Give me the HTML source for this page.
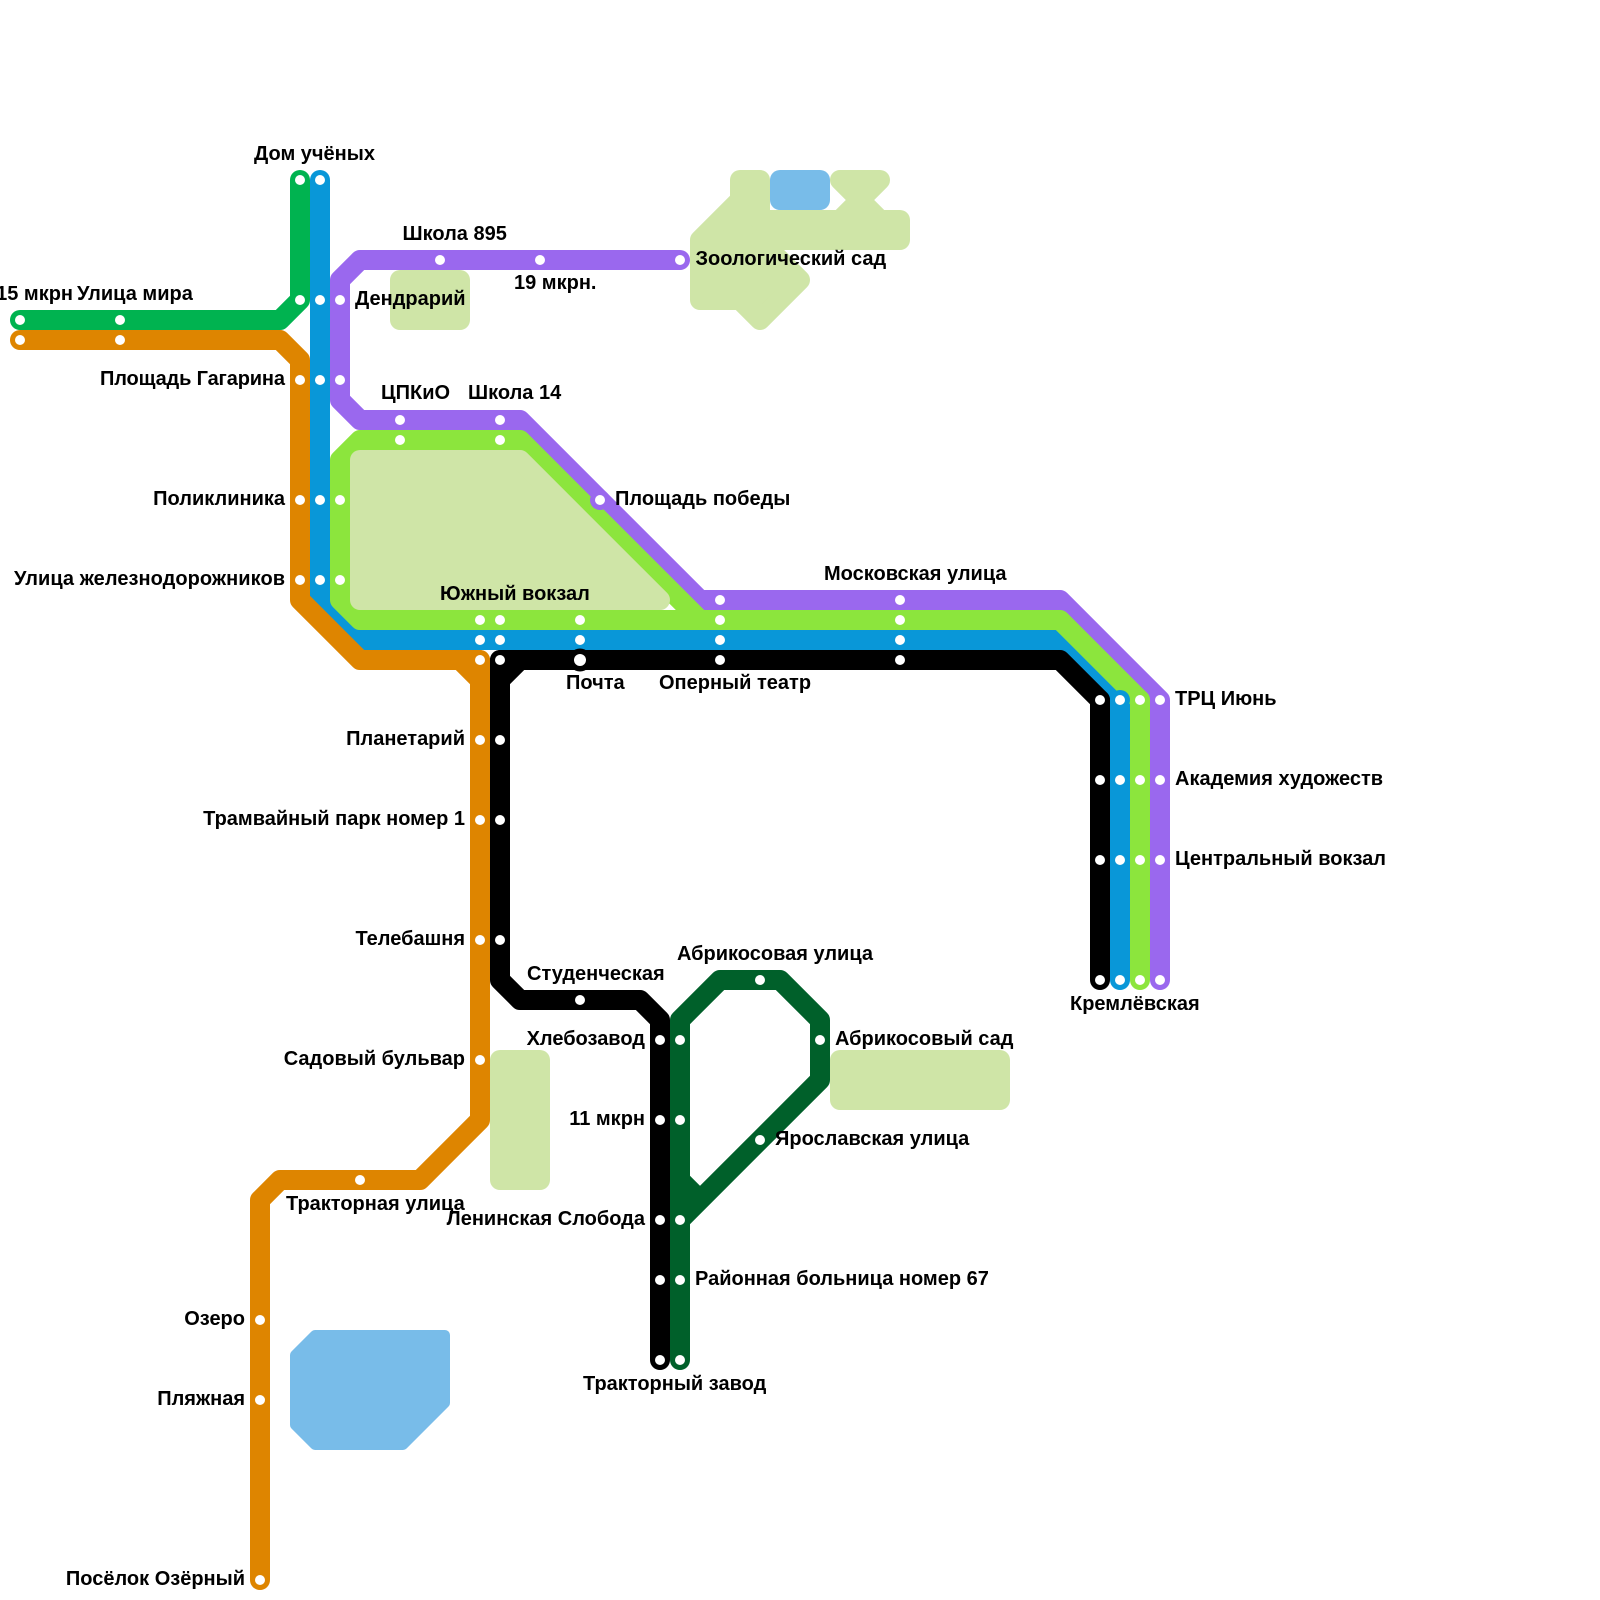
<!DOCTYPE html>
<html><head><meta charset="utf-8"><style>
html,body{margin:0;padding:0;background:#fff}
svg{display:block}
text{font-family:"Liberation Sans",sans-serif;font-weight:bold;font-size:20px;fill:#000}
.e{text-anchor:end}
.l{fill:none;stroke-width:20;stroke-linecap:round;stroke-linejoin:round}
.p{fill:#cfe5a7;stroke:#cfe5a7;stroke-width:20;stroke-linejoin:round}
.w{fill:#78bce9;stroke:#78bce9;stroke-linejoin:round}
.s circle{fill:#fff;r:5px}
</style></head><body>
<svg width="1600" height="1600" viewBox="0 0 1600 1600" xmlns="http://www.w3.org/2000/svg">

<path class="l" stroke="#00b350" d="M20,320H280L300,300V180"/>
<path class="l" stroke="#9a68ee" d="M680,260H360L340,280V400L360,420H520L700,600H1060L1160,700V980"/>
<path class="l" stroke="#0997d8" d="M320,180V600L360,640H1060L1120,700V980"/>
<path class="l" stroke="#de8500" d="M20,340H280L300,360V600L360,660H460L480,680V1120L420,1180H280L260,1200V1580"/>
<path class="l" stroke="#de8500" d="M460,660H480V680"/>
<path class="l" stroke="#8ce53d" d="M340,600V460L360,440H520L700,620M340,600L360,620H1060L1140,700V980"/>
<path class="l" stroke="#000" d="M660,1360V1020L640,1000H520L500,980V680L520,660H1060L1100,700V980"/>
<path class="l" stroke="#000" d="M500,680V660H520"/>
<path class="l" stroke="#00602a" d="M680,1360V1220L820,1080V1020L780,980H720L680,1020V1180L700,1200M680,1180V1220"/>

<polygon class="p" points="400,280 460,280 460,320 400,320"/>
<polygon class="p" points="360,460 520,460 660,600 360,600"/>
<polygon class="p" points="500,1060 540,1060 540,1180 500,1180"/>
<polygon class="p" points="840,1060 1000,1060 1000,1100 840,1100"/>
<polygon class="p" points="700,240 740,200 740,180 760,180 760,220 840,220 860,200 840,180 880,180 860,200 880,220 900,220 900,240 760,240 800,280 760,320 740,300 700,300"/>
<polygon class="w" stroke-width="20" points="780,180 820,180 820,200 780,200"/>
<polygon class="w" stroke-width="10" points="315,1335 445,1335 445,1403 403,1445 315,1445 295,1425 295,1355"/>

<circle cx="600" cy="500" r="10" fill="#9a68ee"/>
<circle cx="480" cy="660" r="10" fill="#de8500"/>
<circle cx="500" cy="660" r="10" fill="#000"/>
<circle cx="580" cy="660" r="11.5" fill="#000"/>
<circle cx="1120" cy="700" r="10" fill="#0997d8"/>
<circle cx="1140" cy="700" r="10" fill="#8ce53d"/>
<circle cx="1100" cy="700" r="10" fill="#000"/>

<g class="s">
<circle cx="20" cy="320"/><circle cx="120" cy="320"/><circle cx="300" cy="300"/><circle cx="300" cy="180"/>
<circle cx="20" cy="340"/><circle cx="120" cy="340"/><circle cx="300" cy="380"/><circle cx="300" cy="500"/><circle cx="300" cy="580"/><circle cx="480" cy="660"/><circle cx="480" cy="740"/><circle cx="480" cy="820"/><circle cx="480" cy="940"/><circle cx="480" cy="1060"/><circle cx="360" cy="1180"/><circle cx="260" cy="1320"/><circle cx="260" cy="1400"/><circle cx="260" cy="1580"/>
<circle cx="320" cy="180"/><circle cx="320" cy="300"/><circle cx="320" cy="380"/><circle cx="320" cy="500"/><circle cx="320" cy="580"/><circle cx="480" cy="640"/><circle cx="500" cy="640"/><circle cx="580" cy="640"/><circle cx="720" cy="640"/><circle cx="900" cy="640"/><circle cx="1120" cy="700"/><circle cx="1120" cy="780"/><circle cx="1120" cy="860"/><circle cx="1120" cy="980"/>
<circle cx="340" cy="500"/><circle cx="340" cy="580"/><circle cx="400" cy="440"/><circle cx="500" cy="440"/><circle cx="480" cy="620"/><circle cx="500" cy="620"/><circle cx="580" cy="620"/><circle cx="720" cy="620"/><circle cx="900" cy="620"/><circle cx="1140" cy="700"/><circle cx="1140" cy="780"/><circle cx="1140" cy="860"/><circle cx="1140" cy="980"/>
<circle cx="340" cy="300"/><circle cx="340" cy="380"/><circle cx="440" cy="260"/><circle cx="540" cy="260"/><circle cx="680" cy="260"/><circle cx="400" cy="420"/><circle cx="500" cy="420"/><circle cx="600" cy="500"/><circle cx="720" cy="600"/><circle cx="900" cy="600"/><circle cx="1160" cy="700"/><circle cx="1160" cy="780"/><circle cx="1160" cy="860"/><circle cx="1160" cy="980"/>
<circle cx="500" cy="660"/><circle cx="500" cy="740"/><circle cx="500" cy="820"/><circle cx="500" cy="940"/><circle cx="720" cy="660"/><circle cx="900" cy="660"/><circle cx="1100" cy="700"/><circle cx="1100" cy="780"/><circle cx="1100" cy="860"/><circle cx="1100" cy="980"/><circle cx="580" cy="1000"/><circle cx="660" cy="1040"/><circle cx="660" cy="1120"/><circle cx="660" cy="1220"/><circle cx="660" cy="1280"/><circle cx="660" cy="1360"/>
<circle cx="680" cy="1040"/><circle cx="680" cy="1120"/><circle cx="680" cy="1220"/><circle cx="680" cy="1280"/><circle cx="680" cy="1360"/><circle cx="760" cy="980"/><circle cx="820" cy="1040"/><circle cx="760" cy="1140"/>
</g>
<circle cx="580" cy="660" r="6" fill="#fff"/>

<text x="254" y="160">Дом учёных</text>
<text class="e" x="73" y="300">15 мкрн</text>
<text x="77" y="300">Улица мира</text>
<text x="355" y="305">Дендрарий</text>
<text x="402.5" y="240">Школа 895</text>
<text x="514" y="289">19 мкрн.</text>
<text x="695.5" y="265">Зоологический сад</text>
<text class="e" x="285" y="385" textLength="185">Площадь Гагарина</text>
<text x="381" y="399">ЦПКиО</text>
<text x="468" y="399">Школа 14</text>
<text class="e" x="285" y="505">Поликлиника</text>
<text class="e" x="285" y="585" textLength="271">Улица железнодорожников</text>
<text x="615" y="505">Площадь победы</text>
<text x="440" y="600">Южный вокзал</text>
<text x="824" y="580">Московская улица</text>
<text x="566" y="689">Почта</text>
<text x="659" y="689">Оперный театр</text>
<text x="1175" y="705">ТРЦ Июнь</text>
<text x="1175" y="785">Академия художеств</text>
<text x="1175" y="865">Центральный вокзал</text>
<text x="1070" y="1010">Кремлёвская</text>
<text class="e" x="465" y="745">Планетарий</text>
<text class="e" x="465" y="825">Трамвайный парк номер 1</text>
<text class="e" x="465" y="945">Телебашня</text>
<text class="e" x="465" y="1065">Садовый бульвар</text>
<text x="527" y="980">Студенческая</text>
<text x="677" y="960">Абрикосовая улица</text>
<text class="e" x="645" y="1045">Хлебозавод</text>
<text class="e" x="645" y="1125">11 мкрн</text>
<text class="e" x="645" y="1225">Ленинская Слобода</text>
<text x="835" y="1045">Абрикосовый сад</text>
<text x="775" y="1145">Ярославская улица</text>
<text x="695" y="1285">Районная больница номер 67</text>
<text x="583" y="1390">Тракторный завод</text>
<text x="286" y="1210">Тракторная улица</text>
<text class="e" x="245" y="1325">Озеро</text>
<text class="e" x="245" y="1405">Пляжная</text>
<text class="e" x="245" y="1585">Посёлок Озёрный</text>
</svg>
</body></html>
